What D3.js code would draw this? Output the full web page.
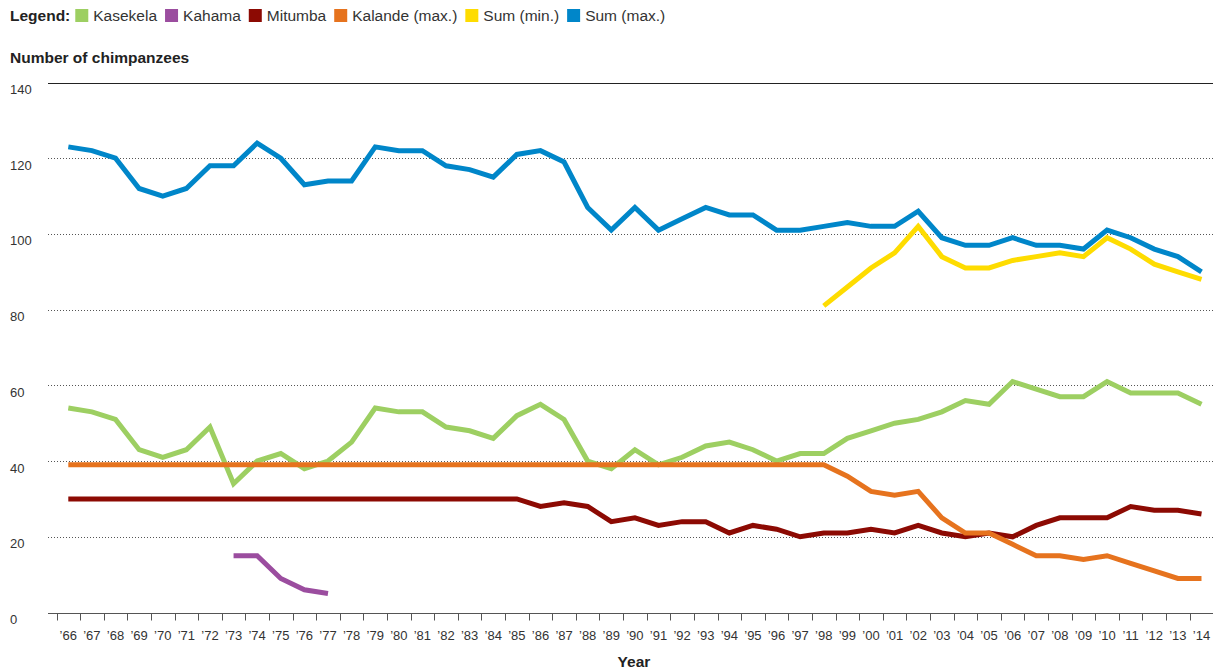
<!DOCTYPE html>
<html>
<head>
<meta charset="utf-8">
<script src="https://cdn.jsdelivr.net/npm/d3@7"></script>
<style>
  body { margin: 0; background: #fff; }
  svg { display: block; font-family: "Liberation Sans", Arial, Helvetica, sans-serif; }
</style>
</head>
<body>
<div id="chart"></div>
<script>
// chimpanzee counts per community, Gombe, 1966-2014
var years = ["66","67","68","69","70","71","72","73","74","75","76","77","78","79","80","81",
  "82","83","84","85","86","87","88","89","90","91","92","93","94","95","96","97","98","99",
  "00","01","02","03","04","05","06","07","08","09","10","11","12","13","14"];

var kasekela = [54,53,51,43,41,43,49,34,40,42,38,40,45,54,53,53,49,48,46,52,55,51,40,38,43,39,
  41,44,45,43,40,42,42,46,48,50,51,53,56,55,61,59,57,57,61,58,58,58,55];
var kahama = [null,null,null,null,null,null,null,15,15,9,6,5,null,null,null,null,null,null,null,
  null,null,null,null,null,null,null,null,null,null,null,null,null,null,null,null,null,null,null,
  null,null,null,null,null,null,null,null,null,null,null];
var mitumba = [30,30,30,30,30,30,30,30,30,30,30,30,30,30,30,30,30,30,30,30,28,29,28,24,25,23,
  24,24,21,23,22,20,21,21,22,21,23,21,20,21,20,23,25,25,25,28,27,27,26];
var kalande = [39,39,39,39,39,39,39,39,39,39,39,39,39,39,39,39,39,39,39,39,39,39,39,39,39,39,
  39,39,39,39,39,39,39,36,32,31,32,25,21,21,18,15,15,14,15,13,11,9,9];
var sumMin = [null,null,null,null,null,null,null,null,null,null,null,null,null,null,null,null,
  null,null,null,null,null,null,null,null,null,null,null,null,null,null,null,null,81,86,91,95,
  102,94,91,91,93,94,95,94,99,96,92,90,88];
var sumMax = [123,122,120,112,110,112,118,118,124,120,113,114,114,123,122,122,118,117,115,121,
  122,119,107,101,107,101,104,107,105,105,101,101,102,103,102,102,106,99,97,97,99,97,97,96,101,
  99,96,94,90];

var yTicks = [0, 20, 40, 60, 80, 100, 120, 140];

var series = [
  { name: "Kasekela", values: kasekela, color: "#9dcf62" },
  { name: "Kahama", values: kahama, color: "#9b4d9f" },
  { name: "Mitumba", values: mitumba, color: "#8c0a03" },
  { name: "Kalande (max.)", values: kalande, color: "#e6731e" },
  { name: "Sum (min.)", values: sumMin, color: "#fedc00" },
  { name: "Sum (max.)", values: sumMax, color: "#0086c9" }
];

var width = 1213,
    height = 669;

var svg = d3.select("#chart").append("svg")
    .attr("width", width)
    .attr("height", height);

var x = d3.scaleBand()
    .domain(years)
    .range([56.5, 1213.3])
    .padding(0);

var y = d3.scaleLinear()
    .domain([0, 140])
    .range([612.5, 82.5]);

var left = 48;
var cx = function(yr) { return x(yr) + x.bandwidth() / 2; };

// legend
var legend = svg.append("g")
    .attr("font-size", 15.5)
    .attr("fill", "#333");

var lx = 10;
var lt = legend.append("text")
    .attr("x", lx)
    .attr("y", 21)
    .attr("font-weight", "bold")
    .attr("fill", "#222")
    .text("Legend:");
lx += lt.node().getComputedTextLength() + 5;

series.forEach(function(s) {
  legend.append("rect")
      .attr("x", lx)
      .attr("y", 9)
      .attr("width", 13)
      .attr("height", 13)
      .attr("fill", s.color);
  lx += 18;
  var t = legend.append("text")
      .attr("x", lx)
      .attr("y", 21)
      .text(s.name);
  lx += t.node().getComputedTextLength() + 8;
});

svg.append("text")
    .attr("x", 10)
    .attr("y", 63)
    .attr("font-size", 15.5)
    .attr("font-weight", "bold")
    .attr("fill", "#222")
    .text("Number of chimpanzees");

// grid
var grid = svg.append("g");
grid.selectAll("line")
    .data(yTicks.filter(function(d) { return d > 0; }))
  .enter().append("line")
    .attr("x1", left)
    .attr("x2", width)
    .attr("y1", function(d) { return Math.round(y(d)) + 0.5; })
    .attr("y2", function(d) { return Math.round(y(d)) + 0.5; })
    .attr("stroke", function(d) { return d === 140 ? "#222" : "#555"; })
    .attr("stroke-width", 1)
    .attr("stroke-dasharray", function(d) { return d === 140 ? null : "1,2"; });

svg.append("g")
    .attr("font-size", 13)
    .attr("fill", "#333")
  .selectAll("text")
    .data(yTicks)
  .enter().append("text")
    .attr("x", 10)
    .attr("y", function(d) { return y(d) + 11.5; })
    .text(function(d) { return d; });

// x axis
var axisY = Math.round(y(0)) + 0.5;
var xa = svg.append("g");
xa.append("line")
    .attr("x1", left)
    .attr("x2", width)
    .attr("y1", axisY)
    .attr("y2", axisY)
    .attr("stroke", "#555");

xa.selectAll(".tick")
    .data(years)
  .enter().append("line")
    .attr("x1", function(d) { return Math.round(x(d)) + 0.5; })
    .attr("x2", function(d) { return Math.round(x(d)) + 0.5; })
    .attr("y1", axisY)
    .attr("y2", axisY + 7)
    .attr("stroke", "#555");

xa.selectAll("text")
    .data(years)
  .enter().append("text")
    .attr("x", cx)
    .attr("y", 640)
    .attr("text-anchor", "middle")
    .attr("font-size", 13)
    .attr("fill", "#333")
    .text(function(d) { return "\u2019" + d; });

svg.append("text")
    .attr("x", 634)
    .attr("y", 667)
    .attr("text-anchor", "middle")
    .attr("font-size", 15.5)
    .attr("font-weight", "bold")
    .attr("fill", "#222")
    .text("Year");

// lines
var line = d3.line()
    .defined(function(d) { return d.v != null; })
    .x(function(d) { return cx(d.yr); })
    .y(function(d) { return y(d.v); });

svg.append("g")
    .attr("fill", "none")
  .selectAll("path")
    .data(series)
  .enter().append("path")
    .attr("stroke", function(s) { return s.color; })
    .attr("stroke-width", 5)
    .attr("d", function(s) {
      return line(s.values.map(function(v, i) { return { yr: years[i], v: v }; }));
    });
</script>
</body>
</html>
